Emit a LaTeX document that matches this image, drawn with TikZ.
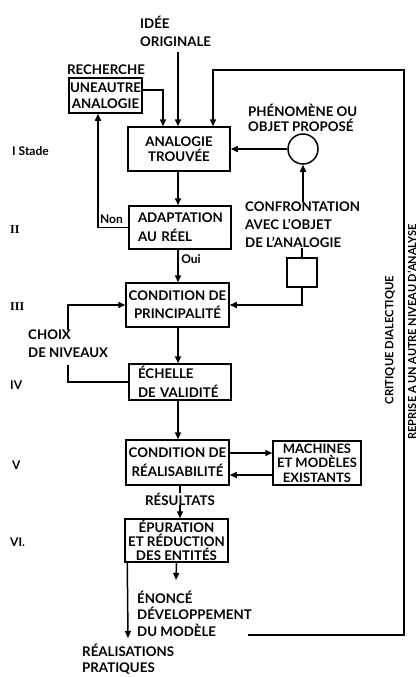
\documentclass[tikz,border=0pt]{standalone}
\usepackage{fontspec}
\setmainfont{Lato}
\newfontfamily\serifnum{Liberation Serif}
\usetikzlibrary{arrows.meta}
\newcommand\tfont{\fontsize{13.3}{15}\selectfont\bfseries}
\tikzset{
  box/.style={draw, line width=1.5pt, inner sep=0pt, align=center, font=\tfont},
  arr/.style={line width=1.5pt, -{Triangle[length=7pt,width=6pt]}},
  ln/.style={line width=1.5pt},
  lbl/.style={inner sep=0pt, align=left, font=\tfont},
  small/.style={inner sep=0pt, font=\fontsize{12}{14}\selectfont\bfseries},
}
\begin{document}
\begin{tikzpicture}[x=1pt,y=-1pt]
\useasboundingbox (0,0) rectangle (420,677);
% boxes
\node[box, minimum width=73pt, minimum height=35pt, font=\fontsize{13.3}{16}\selectfont\bfseries] (une) at (105.5,95.5) {UNEAUTRE\\ANALOGIE};
\node[box, minimum width=102pt, minimum height=44pt] (ana) at (179,149) {ANALOGIE\\TROUVÉE};
\node[box, minimum width=102pt, minimum height=43pt, align=left, text width=84pt, font=\fontsize{13.3}{19}\selectfont\bfseries] (adap) at (180,227.5) {ADAPTATION\\AU RÉEL};
\node[box, minimum width=103pt, minimum height=44pt, font=\fontsize{13.3}{18}\selectfont\bfseries] (cprin) at (177.5,305) {CONDITION DE\\PRINCIPALITÉ};
\node[box, minimum width=102pt, minimum height=36pt, align=left, text width=84pt, font=\fontsize{13.3}{19}\selectfont\bfseries] (ech) at (180,382) {ÉCHELLE\\DE VALIDITÉ};
\node[box, minimum width=103pt, minimum height=45pt, font=\fontsize{13.3}{19}\selectfont\bfseries] (creal) at (177.5,462.5) {CONDITION DE\\RÉALISABILITÉ};
\node[box, minimum width=88pt, minimum height=44pt, font=\fontsize{13}{14.5}\selectfont\bfseries] (mach) at (317,463) {MACHINES\\ET MODÈLES\\EXISTANTS};
\node[box, minimum width=103pt, minimum height=43pt, font=\fontsize{13.3}{14}\selectfont\bfseries] (epur) at (176.5,540.5) {ÉPURATION\\ET RÉDUCTION\\DES ENTITÉS};
\node[draw, line width=1.5pt, circle, minimum size=30pt, inner sep=0pt] (circ) at (303,149) {};
\node[draw, line width=1.5pt, minimum width=30pt, minimum height=29pt, inner sep=0pt] (sq) at (302,272.5) {};
% labels
\node[lbl, anchor=west, font=\fontsize{13.3}{18}\selectfont\bfseries] (idee) at (140,31) {IDÉE\\ORIGINALE};
\node[lbl] (rech) at (106,70) {RECHERCHE};
\node[lbl, anchor=west] (phen) at (248,117.5) {PHÉNOMÈNE OU\\OBJET PROPOSÉ};
\node[lbl, anchor=west, font=\fontsize{13.3}{18}\selectfont\bfseries] (confr) at (245,225) {CONFRONTATION\\AVEC L'OBJET\\DE L'ANALOGIE};
\node[lbl, anchor=west, font=\fontsize{13.3}{18}\selectfont\bfseries] (choix) at (28,344) {CHOIX\\DE NIVEAUX};
\node[small] (non) at (111.5,219) {Non};
\node[small] (oui) at (191,259) {Oui};
\node[lbl] (res) at (180,499) {RÉSULTATS};
\node[lbl, anchor=west, font=\fontsize{13.3}{16.5}\selectfont\bfseries] (enon) at (137,613.5) {ÉNONCÉ\\DÉVELOPPEMENT\\DU MODÈLE};
\node[lbl, anchor=west, font=\fontsize{13.3}{16}\selectfont\bfseries] (real) at (82,659) {RÉALISATIONS\\PRATIQUES};
\node[small, anchor=west] (s1) at (12,151) {I Stade};
\node[small, anchor=west, font=\serifnum\fontsize{12}{14}\selectfont\bfseries] (s2) at (10,230) {II};
\node[small, anchor=west, font=\serifnum\fontsize{12}{14}\selectfont\bfseries] (s3) at (10,307) {III};
\node[small, anchor=west] (s4) at (10,385) {IV};
\node[small, anchor=west] (s5) at (12,465) {V};
\node[small, anchor=west] (s6) at (10,542) {VI.};
\node[inner sep=0pt, rotate=90, font=\fontsize{11.3}{13}\selectfont\bfseries] (crit) at (390,340) {CRITIQUE DIALECTIQUE};
\node[inner sep=0pt, rotate=90, font=\fontsize{11}{13}\selectfont\bfseries] (repr) at (412,332) {REPRISE A UN AUTRE NIVEAU D'ANALYSE};
% coordinates
\coordinate (ideeend) at (178,52);
\coordinate (fb) at (248,635);
\coordinate (enonarr) at (176,580);
\coordinate (realarr) at (128,638);
\coordinate (choixtop) at (68,330);
\coordinate (choixbot) at (68,365);
% connectors
\draw[arr] (ideeend) -- (ideeend |- ana.north);
\draw[arr] ([yshift=5.5pt]une.east) -| ([xshift=-16pt]ana.north);
\draw[arr] (adap.west) -| ([xshift=-7.5pt]une.south);
\draw[arr] (ana.south -| 178,0) -- (178,0 |- adap.north);
\draw[arr] (178,0 |- adap.south) -- (178,0 |- cprin.north);
\draw[arr] (178,0 |- cprin.south) -- (178,0 |- ech.north);
\draw[arr] (178,0 |- ech.south) -- (178,0 |- creal.north);
\draw[arr] ([yshift=9.5pt]creal.east) -- ([yshift=9.5pt]creal.east -| mach.west);
\draw[arr] ([yshift=-12pt]mach.west) -- ([yshift=-12pt]mach.west -| creal.east);
\draw[ln] (creal.south -| res.north) -- (res.north);
\draw[arr] (res.south) -- (res.south |- epur.north);
\draw[arr] (epur.south) -- (enonarr);
\draw[arr] ([xshift=3pt]epur.south west) -- (realarr);
\draw[arr] (fb) -- (404,635) -- (404,70) -| ([xshift=34pt]ana.north);
\draw[arr] (circ.west) -- (circ.west -| ana.east);
\draw[arr] (confr.north -| circ.south) -- (circ.south);
\draw[ln] (confr.south -| sq.north) -- (sq.north);
\draw[arr] (sq.south) |- (cprin.east);
\draw[arr] (choixtop) |- (cprin.west);
\draw[ln] (choixbot) |- (ech.west);
\end{tikzpicture}
\end{document}
